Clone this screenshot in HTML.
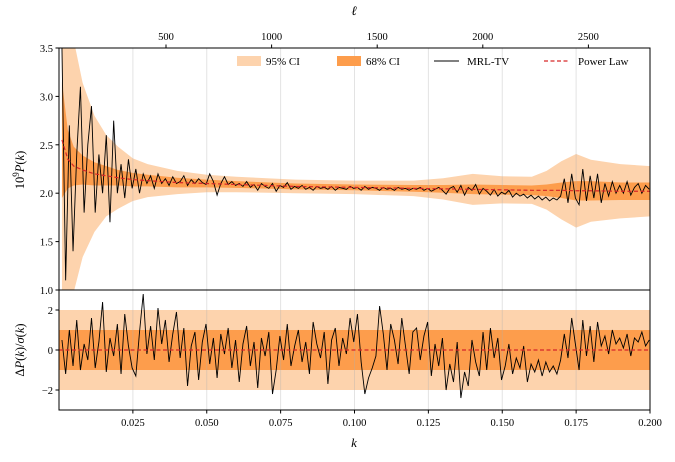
<!DOCTYPE html>
<html><head><meta charset="utf-8"><style>
html,body{margin:0;padding:0;background:#fff;}
svg{display:block;font-family:"Liberation Serif","DejaVu Serif",serif;}
</style></head><body>
<svg id="chart" width="675" height="462" viewBox="0 0 675 462" xmlns="http://www.w3.org/2000/svg">
<g id="top-panel"></g>
<g id="bot-panel"></g>
<g id="axes"></g>
<g id="legend">
  <rect x="237" y="56" width="24" height="10" fill="#fdd3ad"/>
  <text x="266" y="65" font-size="11">95% CI</text>
  <rect x="337" y="56" width="24" height="10" fill="#fd9d4c"/>
  <text x="366" y="65" font-size="11">68% CI</text>
  <line x1="434" y1="61" x2="459" y2="61" stroke="#000" stroke-width="1"/>
  <text x="467" y="65" font-size="11">MRL-TV</text>
  <line x1="544" y1="61" x2="569" y2="61" stroke="#d62728" stroke-width="1.2" stroke-dasharray="4,2.5"/>
  <text x="578" y="65" font-size="11">Power Law</text>
</g>
</svg>
<script>
const kBand=[0.001,0.003,0.005,0.008,0.012,0.016,0.02,0.025,0.03,0.04,0.05,0.06,0.08,0.1,0.12,0.13,0.14,0.15,0.16,0.165,0.17,0.175,0.18,0.19,0.2];
const ci95=[2.5,1.7,1.3,0.9,0.6,0.42,0.32,0.22,0.17,0.12,0.09,0.08,0.07,0.07,0.08,0.11,0.16,0.14,0.14,0.2,0.3,0.38,0.32,0.28,0.26];
const ci68=[0.6,0.3,0.2,0.15,0.12,0.1,0.08,0.07,0.06,0.05,0.04,0.035,0.03,0.03,0.035,0.04,0.05,0.05,0.05,0.06,0.08,0.1,0.1,0.09,0.09];
const powerLaw=[2.55,2.35,2.28,2.24,2.2,2.18,2.16,2.14,2.13,2.11,2.1,2.09,2.07,2.06,2.05,2.045,2.04,2.035,2.03,2.03,2.03,2.025,2.025,2.02,2.02];
const topValues=[3.5,1.1,2.7,1.4,2.4,3.1,1.8,2.5,
2.9,1.8,2.4,2.0,2.6,1.7,2.75,2.0,
2.3,1.95,2.35,2.05,2.25,2.0,2.2,2.1,
2.18,2.05,2.2,2.1,2.15,2.08,2.17,2.1,
2.12,2.18,2.08,2.14,2.1,2.15,2.11,2.09,
2.2,2.12,1.98,2.1,2.17,2.09,2.12,2.08,
2.1,2.07,2.12,2.06,2.09,2.03,2.1,2.07,
2.05,2.1,2.02,2.08,2.06,2.11,2.04,2.07,
2.05,2.08,2.04,2.06,2.03,2.07,2.05,2.06,
2.04,2.07,2.03,2.06,2.05,2.04,2.07,2.05,
2.06,2.03,2.07,2.04,2.06,2.05,2.03,2.06,
2.04,2.05,2.03,2.06,2.04,2.05,2.03,2.05,
2.04,2.06,2.03,2.05,2.02,2.04,2.06,2.03,
1.99,2.05,2.07,2.01,2.08,1.98,2.06,2.03,
2.09,1.99,2.05,2.02,1.98,2.04,1.97,2.01,
1.99,2.03,1.96,2.0,1.97,1.99,1.95,1.98,
1.94,1.97,1.93,1.96,1.92,1.95,1.93,1.97,
2.15,1.9,2.2,1.95,1.88,2.25,1.92,2.18,
1.95,2.2,1.9,2.1,1.97,2.12,2.0,2.08,
2.0,2.12,1.98,2.06,2.1,2.0,2.08,2.04];
const residuals=[0.5,-1.2,1.0,-0.8,1.5,-1.0,0.3,-0.5,
1.6,-0.9,0.4,2.4,-1.1,0.6,-0.3,1.3,
-1.2,1.8,0.2,-0.9,-1.3,0.9,2.8,-0.2,
1.2,-0.5,2.1,0.3,1.5,-0.6,0.8,1.9,
-0.4,1.1,-1.8,0.2,0.9,-1.5,0.4,1.3,
-0.7,0.6,-1.4,0.8,-0.2,1.1,-0.9,0.5,
-1.6,0.3,1.2,-0.8,0.4,-1.9,0.6,-0.3,
0.9,-2.2,-1.0,0.7,-0.5,1.3,-0.8,0.2,
1.0,-0.6,0.4,-1.2,1.4,0.3,-0.4,0.9,
-1.7,0.5,1.1,-0.8,0.6,-0.2,1.6,0.4,
1.8,-0.6,-2.2,-1.4,-0.9,-0.3,2.2,0.8,
-1.0,1.3,0.5,-0.7,1.6,0.2,-1.2,0.9,
1.1,-0.5,0.7,1.4,-1.3,0.3,-0.8,0.6,
-2.0,-0.7,-1.6,0.4,-2.4,-1.1,-1.8,0.5,
-0.6,-1.3,0.9,-1.0,1.1,-0.4,0.6,-1.5,
-0.8,0.3,-1.2,-0.4,-0.9,0.2,-1.6,-0.7,
-1.1,-0.5,-1.3,-0.6,-1.1,-0.8,-1.2,-0.5,
0.8,-0.4,1.6,0.3,-1.0,1.5,-0.3,1.2,
-0.6,1.4,0.2,0.7,-0.2,1.0,0.3,0.6,
0.1,0.8,-0.3,0.6,0.4,0.9,0.2,0.5];
const kTicks=[0.025,0.05,0.075,0.1,0.125,0.15,0.175,0.2];
const kTickLabels=["0.025","0.050","0.075","0.100","0.125","0.150","0.175","0.200"];
const pTicks=[1.0,1.5,2.0,2.5,3.0,3.5];
const pTickLabels=["1.0","1.5","2.0","2.5","3.0","3.5"];
const rTicks=[-2,0,2];
const rTickLabels=["\u22122","0","2"];
const ellTicks=[500,1000,1500,2000,2500];

const X0=59,X1=650,TT=48,TB=290,BT=290,BB=410;
const kTop=topValues.map((_,i)=>0.001+i*0.00125);
const xs=k=>X0+(k-0)/(0.2-0)*(X1-X0);
const yTop=v=>TB-(v-1.0)/(3.5-1.0)*(TB-TT);
const yBot=v=>BB-(v+3)/6*(BB-BT);
const xEll=l=>60.4+l*0.2112;
const NS="http://www.w3.org/2000/svg";
function mk(tag,attrs,parent){const e=document.createElementNS(NS,tag);for(const a in attrs)e.setAttribute(a,attrs[a]);parent.appendChild(e);return e;}
const svg=document.getElementById('chart');
const topG=document.getElementById('top-panel'),botG=document.getElementById('bot-panel'),ax=document.getElementById('axes');
const defs=mk('defs',{},svg);
const cp1=mk('clipPath',{id:'c1'},defs);mk('rect',{x:X0,y:TT,width:X1-X0,height:TB-TT},cp1);
const cp2=mk('clipPath',{id:'c2'},defs);mk('rect',{x:X0,y:BT,width:X1-X0,height:BB-BT},cp2);
topG.setAttribute('clip-path','url(#c1)');botG.setAttribute('clip-path','url(#c2)');

function band(arr,fill,name){
  let up=kBand.map((k,i)=>xs(k)+','+yTop(powerLaw[i]+arr[i]));
  let dn=kBand.map((k,i)=>xs(k)+','+yTop(powerLaw[i]-arr[i])).reverse();
  const p=mk('polygon',{points:up.concat(dn).join(' '),fill:fill},topG);
  
  
}
band(ci95,'#fdd3ad','ci95-band');
band(ci68,'#fd9d4c','ci68-band');
const b95=mk('rect',{x:X0,y:yBot(2),width:X1-X0,height:yBot(-2)-yBot(2),fill:'#fdd3ad'},botG);


const b68=mk('rect',{x:X0,y:yBot(1),width:X1-X0,height:yBot(-1)-yBot(1),fill:'#fd9d4c'},botG);


kTicks.forEach(k=>{
  if(k>=0.2)return;
  [[TT,TB,topG],[BT,BB,botG]].forEach(([a,b,g])=>{
    const l=mk('line',{x1:xs(k),x2:xs(k),y1:a,y2:b,stroke:'#b0b0b0','stroke-opacity':0.35,'stroke-width':1},g);
    
    
  });
});
const mrl=mk('polyline',{points:kTop.map((k,i)=>xs(k)+','+yTop(topValues[i])).join(' '),fill:'none',stroke:'#000','stroke-width':0.9},topG);


const pl=mk('polyline',{points:kBand.map((k,i)=>xs(k)+','+yTop(powerLaw[i])).join(' '),fill:'none',stroke:'#d62728','stroke-width':1.2,'stroke-dasharray':'4,2.5'},topG);


const res=mk('polyline',{points:kTop.map((k,i)=>xs(k)+','+yBot(residuals[i])).join(' '),fill:'none',stroke:'#000','stroke-width':0.9},botG);


const zl=mk('line',{x1:X0,x2:X1,y1:yBot(0),y2:yBot(0),stroke:'#d62728','stroke-width':1.2,'stroke-dasharray':'4,2.5'},botG);


[[TT,TB],[BT,BB]].forEach(([a,b],j)=>{
  const r=mk('rect',{x:X0,y:a,width:X1-X0,height:b-a,fill:'none',stroke:'#000','stroke-width':1},ax);
  
  
});
kTicks.forEach((k,i)=>{
  const t=mk('line',{x1:xs(k),x2:xs(k),y1:BB,y2:BB+3.5,stroke:'#000'},ax);
  
  
  const tx=mk('text',{x:xs(k),y:BB+16,'font-size':10.5,'text-anchor':'middle'},ax);
  tx.textContent=kTickLabels[i];
  
  
});
pTicks.forEach((v,i)=>{
  const t=mk('line',{x1:X0-3.5,x2:X0,y1:yTop(v),y2:yTop(v),stroke:'#000'},ax);
  
  
  const tx=mk('text',{x:X0-6,y:yTop(v)+4,'font-size':10.5,'text-anchor':'end'},ax);
  tx.textContent=pTickLabels[i];
  
  
});
rTicks.forEach((v,i)=>{
  const t=mk('line',{x1:X0-3.5,x2:X0,y1:yBot(v),y2:yBot(v),stroke:'#000'},ax);
  
  
  const tx=mk('text',{x:X0-6,y:yBot(v)+4,'font-size':10.5,'text-anchor':'end'},ax);
  tx.textContent=rTickLabels[i];
  
  
});
ellTicks.forEach(l=>{
  const t=mk('line',{x1:xEll(l),x2:xEll(l),y1:TT-3.5,y2:TT,stroke:'#000'},ax);
  
  
  const tx=mk('text',{x:xEll(l),y:TT-8,'font-size':10.5,'text-anchor':'middle'},ax);
  tx.textContent=String(l);
  
  
});
let t1=mk('text',{x:354,y:447,'font-size':13,'font-style':'italic','text-anchor':'middle'},ax);
t1.textContent='k';


let t2=mk('text',{x:354,y:15,'font-size':13,'font-style':'italic','text-anchor':'middle'},ax);
t2.textContent='\u2113';


let t3=mk('text',{x:0,y:0,'font-size':12.5,'text-anchor':'middle',transform:'translate(24,170) rotate(-90)'},ax);
t3.innerHTML='10<tspan dy="-5" font-size="9">9</tspan><tspan dy="5" font-style="italic">P</tspan>(<tspan font-style="italic">k</tspan>)';


let t4=mk('text',{x:0,y:0,'font-size':12.5,'text-anchor':'middle',transform:'translate(24,350) rotate(-90)'},ax);
t4.innerHTML='\u0394<tspan font-style="italic">P</tspan>(<tspan font-style="italic">k</tspan>)/<tspan font-style="italic">\u03c3</tspan>(<tspan font-style="italic">k</tspan>)';


</script>
</body></html>
